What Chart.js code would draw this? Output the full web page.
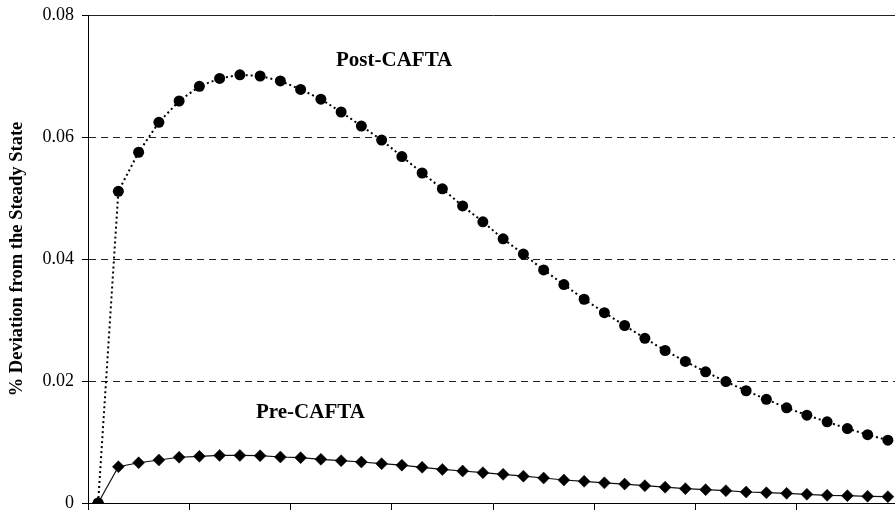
<!DOCTYPE html>
<html>
<head>
<meta charset="utf-8">
<script src="https://cdn.jsdelivr.net/npm/chart.js@4/dist/chart.umd.min.js"></script>
<style>
  html, body { margin: 0; padding: 0; overflow: hidden; background: #ffffff; }
  #wrap { width: 898px; height: 511px; }
</style>
</head>
<body>
<div id="wrap"><canvas id="chart" width="898" height="511"></canvas></div>
<script>
// Periods after the shock
const periods = [0, 1, 2, 3, 4, 5, 6, 7, 8, 9, 10, 11, 12, 13, 14, 15, 16, 17, 18, 19,
                 20, 21, 22, 23, 24, 25, 26, 27, 28, 29, 30, 31, 32, 33, 34, 35, 36, 37, 38, 39];

// Impulse responses, % deviation from the steady state
const postCafta = [0, 0.0511, 0.0575, 0.0624, 0.0659, 0.0683, 0.0696, 0.0702, 0.0700, 0.0692,
                   0.0678, 0.0662, 0.0641, 0.0618, 0.0595, 0.0568, 0.0541, 0.0515, 0.0487, 0.0461,
                   0.0433, 0.0408, 0.0382, 0.0358, 0.0334, 0.0312, 0.0291, 0.0270, 0.0250, 0.0232,
                   0.0215, 0.0199, 0.0184, 0.0170, 0.0156, 0.0144, 0.0133, 0.0122, 0.0112, 0.0103];

const preCafta = [0, 0.00595, 0.0066, 0.00705, 0.0075, 0.00765, 0.0078, 0.0078, 0.00776, 0.00754,
                  0.00743, 0.00716, 0.00694, 0.00672, 0.00645, 0.0062, 0.00585, 0.0055, 0.00525, 0.00497,
                  0.0047, 0.0044, 0.0041, 0.00377, 0.00355, 0.0033, 0.0031, 0.00284, 0.0026, 0.00235,
                  0.00219, 0.00202, 0.0018, 0.00169, 0.00158, 0.00142, 0.00126, 0.0012, 0.0011, 0.00104];

const yTickLabels = ['0', '0.02', '0.04', '0.06', '0.08'];
const seriesNames = ['Post-CAFTA', 'Pre-CAFTA'];
const yAxisTitle = '% Deviation from the Steady State';

const SERIF = '"Liberation Serif", "Times New Roman", serif';

// Curve names written inside the plot next to each curve
const curveNames = {
  id: 'curveNames',
  afterDatasetsDraw(chart) {
    const { ctx } = chart;
    ctx.save();
    ctx.fillStyle = '#000';
    ctx.font = 'bold 21px ' + SERIF;
    ctx.textAlign = 'left';
    ctx.textBaseline = 'alphabetic';
    ctx.fillText(seriesNames[0], 336, 66);
    ctx.fillText(seriesNames[1], 256, 418);
    ctx.restore();
  }
};

new Chart(document.getElementById('chart'), {
  type: 'line',
  data: {
    labels: periods,
    datasets: [
      {
        label: seriesNames[0],
        data: postCafta,
        order: 0,
        borderColor: '#000',
        borderWidth: 2,
        borderDash: [2, 3],
        tension: 0,
        fill: false,
        pointStyle: 'circle',
        pointRadius: 5.5,
        pointBackgroundColor: '#000',
        pointBorderColor: '#000',
        pointBorderWidth: 0
      },
      {
        label: seriesNames[1],
        data: preCafta,
        order: 1,
        borderColor: '#111',
        borderWidth: 1.2,
        tension: 0,
        fill: false,
        pointStyle: 'rectRot',
        pointRadius: 6,
        pointBackgroundColor: '#000',
        pointBorderColor: '#000',
        pointBorderWidth: 0.5
      }
    ]
  },
  options: {
    responsive: false,
    animation: false,
    layout: { autoPadding: false, padding: { top: 15, right: 0, bottom: 0, left: 0 } },
    plugins: {
      legend: { display: false },
      tooltip: { enabled: false }
    },
    scales: {
      x: {
        type: 'category',
        offset: true,
        grid: {
          offset: true,
          drawOnChartArea: false,
          drawTicks: true,
          tickLength: 7,
          tickWidth: 1,
          tickColor: (c) => (c.index !== undefined && c.index % 5 === 0) ? '#000' : 'rgba(0,0,0,0)'
        },
        border: { display: true, color: '#000', width: 1 },
        ticks: { display: false },
        afterFit: (s) => { s.height = 8; }
      },
      y: {
        min: 0,
        max: 0.08,
        ticks: {
          stepSize: 0.02,
          color: '#000',
          padding: 8,
          font: { family: SERIF, size: 18 },
          callback: (v, i) => yTickLabels[i]
        },
        grid: {
          color: (c) => (c.tick && c.tick.value > 0.001) ? '#222' : 'rgba(0,0,0,0)',
          lineWidth: 1,
          tickLength: 6,
          tickColor: '#000',
          tickWidth: 1
        },
        border: {
          display: true,
          color: '#000',
          width: 1,
          dash: (c) => (c.tick && c.tick.value > 0.001 && c.tick.value < 0.079) ? [7, 5] : []
        },
        title: {
          display: true,
          text: yAxisTitle,
          color: '#000',
          font: { family: SERIF, size: 18.5, weight: 'bold' },
          padding: { top: 6, bottom: 0 }
        },
        afterFit: (s) => { s.width = 88; s.paddingTop = 0; s.paddingBottom = 0; }
      }
    }
  },
  plugins: [curveNames]
});
</script>
</body>
</html>
